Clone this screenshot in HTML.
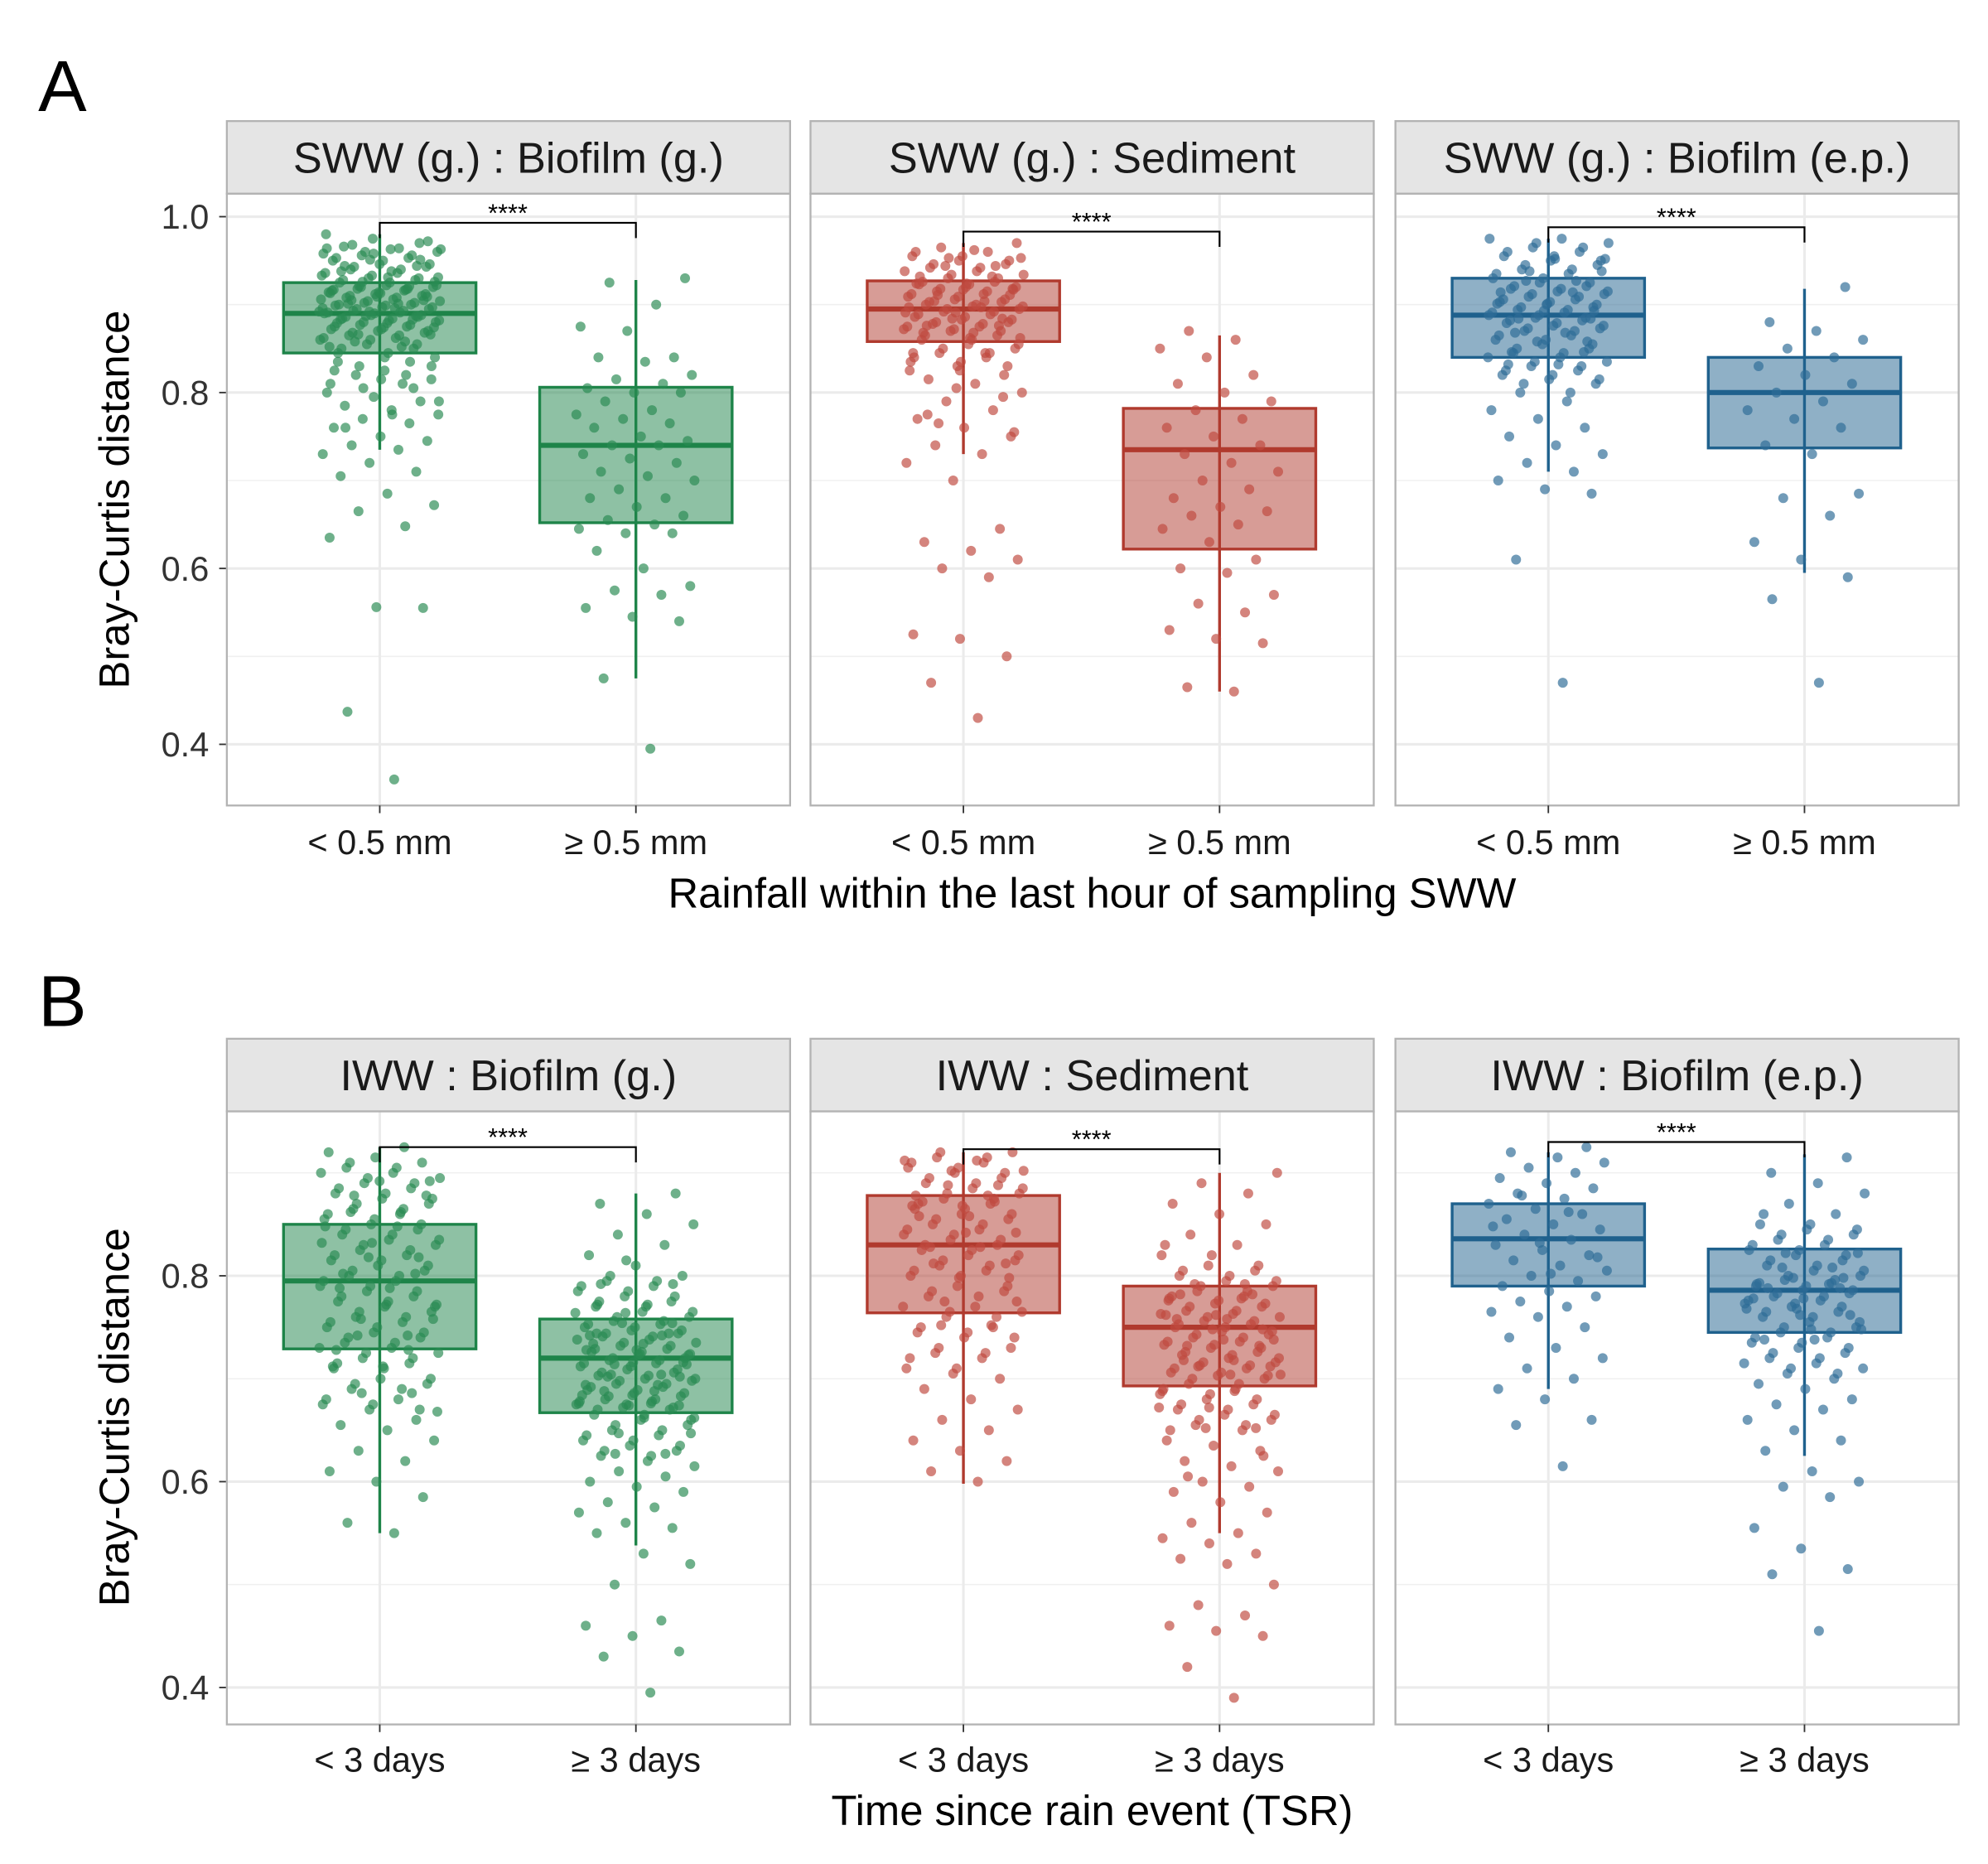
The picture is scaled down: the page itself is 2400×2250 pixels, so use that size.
<!DOCTYPE html>
<html><head><meta charset="utf-8"><style>
html,body{margin:0;padding:0;background:#fff;}
svg{display:block;font-family:"Liberation Sans",Arial,sans-serif;}
</style></head><body>
<svg id="chart" width="2400" height="2250" viewBox="0 0 1560 1462.5" xmlns="http://www.w3.org/2000/svg"></svg>
<script>
const NS="http://www.w3.org/2000/svg";
const svg=document.getElementById('chart');
const stripTitles=["SWW (g.) : Biofilm (g.)","SWW (g.) : Sediment","SWW (g.) : Biofilm (e.p.)","IWW : Biofilm (g.)","IWW : Sediment","IWW : Biofilm (e.p.)"];
const catsA=["< 0.5 mm","≥ 0.5 mm"];
const catsB=["< 3 days","≥ 3 days"];
const ticksA=[0.4,0.6,0.8,1.0];
const ticksB=[0.4,0.6,0.8];
const tickLabelsA=["0.4","0.6","0.8","1.0"];
const tickLabelsB=["0.4","0.6","0.8"];
// box stats: [lowerWhisker, q1, median, q3, upperWhisker]
const boxA1=[[0.735,0.845,0.89,0.925,0.98],[0.475,0.652,0.74,0.806,0.928]];
const boxA2=[[0.73,0.858,0.895,0.927,0.97],[0.46,0.622,0.735,0.782,0.865]];
const boxA3=[[0.71,0.84,0.888,0.93,0.975],[0.595,0.737,0.80,0.84,0.918]];
const boxB1=[[0.55,0.729,0.795,0.85,0.925],[0.538,0.667,0.72,0.758,0.88]];
const boxB2=[[0.598,0.764,0.83,0.878,0.92],[0.55,0.693,0.75,0.79,0.90]];
const boxB3=[[0.69,0.79,0.836,0.87,0.92],[0.625,0.745,0.786,0.826,0.918]];
const sigLevels=[0.993,0.983,0.988,0.925,0.923,0.93];
// jittered points
const ptsA1c1=[0.36,0.437,0.555,0.556,0.635,0.648,0.665,0.672,0.685,0.705,0.71,0.72,0.73,0.735,0.74,0.745,0.75,0.76,0.765,0.77,0.775,0.78,0.785,0.79,0.795,0.80,0.81,0.82,0.83,0.84,0.845,0.85,0.855,0.86,0.862,0.865,0.868,0.87,0.872,0.875,0.877,0.88,0.882,0.884,0.886,0.888,0.89,0.891,0.893,0.895,0.897,0.899,0.90,0.902,0.904,0.906,0.908,0.91,0.912,0.914,0.916,0.918,0.92,0.922,0.925,0.928,0.93,0.933,0.936,0.94,0.943,0.946,0.95,0.953,0.956,0.96,0.963,0.966,0.97,0.975,0.98,0.852,0.858,0.866,0.874,0.879,0.883,0.887,0.892,0.896,0.901,0.905,0.909,0.913,0.917,0.921,0.926,0.931,0.938,0.944,0.951,0.958,0.964,0.968,0.972,0.815,0.825,0.835,0.805,0.79,0.775,0.76];
const ptsA1c2=[0.395,0.475,0.54,0.545,0.555,0.57,0.575,0.58,0.60,0.62,0.64,0.64,0.645,0.65,0.655,0.66,0.67,0.68,0.68,0.69,0.70,0.705,0.71,0.72,0.725,0.73,0.74,0.74,0.745,0.75,0.76,0.765,0.77,0.775,0.78,0.79,0.80,0.80,0.805,0.81,0.815,0.82,0.835,0.84,0.84,0.87,0.875,0.90,0.925,0.93];
const ptsA2c1=[0.43,0.47,0.50,0.52,0.525,0.59,0.60,0.61,0.62,0.63,0.645,0.70,0.72,0.73,0.74,0.75,0.76,0.77,0.78,0.79,0.80,0.81,0.815,0.82,0.83,0.835,0.84,0.845,0.85,0.855,0.86,0.865,0.87,0.872,0.875,0.878,0.88,0.883,0.886,0.889,0.892,0.895,0.898,0.90,0.903,0.906,0.909,0.912,0.915,0.918,0.92,0.923,0.926,0.93,0.934,0.938,0.942,0.946,0.95,0.955,0.96,0.965,0.97,0.862,0.868,0.876,0.884,0.891,0.897,0.904,0.911,0.917,0.924,0.932,0.944,0.953,0.962,0.775,0.795,0.805,0.825,0.845,0.765,0.755];
const ptsA2c2=[0.46,0.465,0.515,0.52,0.53,0.55,0.56,0.57,0.595,0.60,0.61,0.63,0.645,0.65,0.66,0.665,0.67,0.68,0.69,0.70,0.71,0.72,0.73,0.74,0.75,0.76,0.77,0.78,0.79,0.80,0.81,0.82,0.84,0.85,0.86,0.87];
const ptsA3c1=[0.47,0.61,0.685,0.69,0.70,0.71,0.72,0.73,0.74,0.75,0.76,0.77,0.78,0.79,0.80,0.81,0.815,0.82,0.825,0.83,0.835,0.84,0.845,0.85,0.855,0.86,0.865,0.87,0.873,0.876,0.879,0.882,0.885,0.888,0.891,0.894,0.897,0.90,0.903,0.906,0.909,0.912,0.915,0.918,0.921,0.925,0.93,0.935,0.94,0.945,0.95,0.955,0.96,0.965,0.97,0.975,0.868,0.884,0.893,0.901,0.914,0.927,0.938,0.952,0.832,0.846,0.858];
const ptsA3c2=[0.47,0.565,0.59,0.61,0.63,0.66,0.68,0.685,0.73,0.74,0.76,0.77,0.78,0.79,0.80,0.81,0.82,0.83,0.84,0.85,0.86,0.87,0.88,0.92];
const ptsB1c1=[0.55,0.56,0.585,0.60,0.61,0.62,0.63,0.64,0.65,0.655,0.66,0.67,0.675,0.68,0.69,0.695,0.70,0.71,0.715,0.72,0.725,0.73,0.735,0.74,0.745,0.75,0.755,0.76,0.765,0.77,0.775,0.78,0.785,0.79,0.795,0.80,0.805,0.81,0.815,0.82,0.825,0.83,0.835,0.84,0.845,0.85,0.855,0.86,0.865,0.87,0.875,0.88,0.885,0.89,0.895,0.90,0.905,0.91,0.915,0.92,0.925,0.742,0.758,0.772,0.788,0.802,0.818,0.832,0.848,0.862,0.878,0.892,0.712,0.728,0.686,0.668];
const ptsB1c2=[0.395,0.43,0.435,0.45,0.46,0.465,0.50,0.52,0.53,0.55,0.555,0.56,0.57,0.575,0.58,0.59,0.595,0.60,0.605,0.61,0.615,0.62,0.625,0.63,0.635,0.64,0.645,0.65,0.655,0.66,0.665,0.67,0.672,0.675,0.678,0.68,0.683,0.686,0.689,0.692,0.695,0.698,0.70,0.703,0.706,0.709,0.712,0.715,0.718,0.72,0.723,0.726,0.729,0.732,0.735,0.738,0.741,0.744,0.747,0.75,0.753,0.756,0.76,0.765,0.77,0.775,0.78,0.785,0.79,0.795,0.80,0.81,0.82,0.83,0.84,0.85,0.86,0.87,0.88,0.674,0.684,0.694,0.704,0.714,0.724,0.734,0.744,0.754,0.764,0.676,0.688,0.702,0.716,0.728,0.742,0.627,0.647,0.662,0.772,0.792,0.815];
const ptsB2c1=[0.60,0.61,0.62,0.63,0.64,0.65,0.66,0.67,0.68,0.69,0.70,0.705,0.71,0.72,0.725,0.73,0.74,0.745,0.75,0.76,0.765,0.77,0.78,0.785,0.79,0.80,0.805,0.81,0.815,0.82,0.825,0.83,0.835,0.84,0.845,0.85,0.855,0.86,0.865,0.87,0.875,0.88,0.885,0.89,0.895,0.90,0.905,0.91,0.915,0.92,0.842,0.858,0.872,0.888,0.902,0.912,0.828,0.812,0.798,0.868,0.878,0.752,0.775];
const ptsB2c2=[0.39,0.42,0.45,0.455,0.46,0.47,0.48,0.50,0.52,0.525,0.53,0.54,0.545,0.55,0.56,0.57,0.58,0.59,0.595,0.60,0.61,0.615,0.62,0.63,0.635,0.64,0.65,0.655,0.66,0.665,0.67,0.675,0.68,0.685,0.69,0.695,0.70,0.703,0.706,0.71,0.713,0.716,0.72,0.723,0.726,0.73,0.733,0.736,0.74,0.743,0.746,0.75,0.753,0.756,0.76,0.763,0.766,0.77,0.773,0.776,0.78,0.785,0.79,0.795,0.80,0.805,0.81,0.82,0.83,0.84,0.85,0.86,0.87,0.88,0.89,0.90,0.704,0.718,0.732,0.748,0.762,0.778,0.792,0.712,0.738,0.758,0.782,0.652,0.672,0.688,0.605,0.625];
const ptsB3c1=[0.615,0.655,0.66,0.68,0.69,0.70,0.71,0.72,0.73,0.74,0.75,0.76,0.765,0.77,0.775,0.78,0.785,0.79,0.795,0.80,0.805,0.81,0.815,0.82,0.825,0.83,0.835,0.84,0.845,0.85,0.855,0.86,0.865,0.87,0.875,0.88,0.885,0.89,0.895,0.90,0.905,0.91,0.915,0.92,0.925,0.832,0.848,0.862,0.878,0.818,0.802];
const ptsB3c2=[0.455,0.51,0.515,0.535,0.555,0.585,0.595,0.60,0.61,0.63,0.64,0.65,0.66,0.67,0.675,0.68,0.69,0.695,0.70,0.705,0.71,0.715,0.72,0.725,0.73,0.735,0.74,0.745,0.75,0.755,0.76,0.765,0.77,0.773,0.776,0.78,0.783,0.786,0.79,0.793,0.796,0.80,0.805,0.81,0.815,0.82,0.825,0.83,0.835,0.84,0.845,0.85,0.86,0.87,0.88,0.89,0.90,0.915,0.762,0.778,0.792,0.808,0.822,0.748,0.738,0.788,0.798,0.768];

const panelsX=[178,636,1095];
const panelW=442;
const colors=[{s:"#1e8449",f:"#1e8449",p:"#2a8a52"},{s:"#b03a2e",f:"#b03a2e",p:"#bf4a3f"},{s:"#1f618d",f:"#1f618d",p:"#2e6c96"}];
const rows=[
 {stripTop:95,top:152,bottom:632,y:v=>170+(1.0-v)*690,ticks:ticksA,labels:tickLabelsA,cats:catsA,minor:[0.5,0.7,0.9],
  boxes:[boxA1,boxA2,boxA3],pts:[[ptsA1c1,ptsA1c2],[ptsA2c1,ptsA2c2],[ptsA3c1,ptsA3c2]],xtitle:"Rainfall within the last hour of sampling SWW",xtY:700,letter:"A",letterY:68,ytCenter:392,tickLabY:660},
 {stripTop:815,top:872,bottom:1353,y:v=>1001+(0.8-v)*807.5,ticks:ticksB,labels:tickLabelsB,cats:catsB,minor:[0.5,0.7,0.9],
  boxes:[boxB1,boxB2,boxB3],pts:[[ptsB1c1,ptsB1c2],[ptsB2c1,ptsB2c2],[ptsB3c1,ptsB3c2]],xtitle:"Time since rain event (TSR)",xtY:1420,letter:"B",letterY:786,ytCenter:1112,tickLabY:1380}
];
function el(tag,attrs,parent){const e=document.createElementNS(NS,tag);for(const k in attrs)e.setAttribute(k,attrs[k]);(parent||svg).appendChild(e);return e;}

rows.forEach((r,ri)=>{
  const L=el('text',{x:30,y:r.letterY+19,'font-size':57,fill:'#000'});
  
  
  L.textContent=r.letter;
  const yt=el('text',{x:0,y:0,'font-size':33,fill:'#000','text-anchor':'middle',transform:`translate(101,${r.ytCenter}) rotate(-90)`});
  
  
  yt.textContent="Bray-Curtis distance";
  const xt=el('text',{x:857,y:r.xtY+12,'font-size':33,fill:'#000','text-anchor':'middle'});
  
  
  xt.textContent=r.xtitle;
  r.ticks.forEach((t,ti)=>{
    const tl=el('text',{x:164,y:r.y(t)+9.5,'font-size':27,fill:'#333','text-anchor':'end'});
    
    
    tl.textContent=r.labels[ti];
    const tk=el('line',{x1:172,x2:178,y1:r.y(t),y2:r.y(t),stroke:'#333','stroke-width':1.2});
    
    
  });
  panelsX.forEach((px,pi)=>{
    const idx=ri*3+pi;
    const g=el('g',{});
    
    
    const strip=el('rect',{x:px,y:r.stripTop,width:panelW,height:r.top-r.stripTop,fill:'#e5e5e5',stroke:'#b3b3b3','stroke-width':1.5},g);
    
    
    const st=el('text',{x:px+panelW/2,y:(r.stripTop+r.top)/2+12,'font-size':34,fill:'#1a1a1a','text-anchor':'middle'},g);
    
    
    st.textContent=stripTitles[idx];
    const bg=el('rect',{x:px,y:r.top,width:panelW,height:r.bottom-r.top,fill:'#fff'},g);
    
    
    const clipId='clip'+idx;
    const cp=el('clipPath',{id:clipId},g);el('rect',{x:px,y:r.top,width:panelW,height:r.bottom-r.top},cp);
    const inner=el('g',{'clip-path':`url(#${clipId})`},g);
    r.minor.forEach(m=>{const gl=el('line',{x1:px,x2:px+panelW,y1:r.y(m),y2:r.y(m),stroke:'#f0f0f0','stroke-width':1},inner);
      
      });
    r.ticks.forEach(t=>{const gl=el('line',{x1:px,x2:px+panelW,y1:r.y(t),y2:r.y(t),stroke:'#ebebeb','stroke-width':2},inner);
      
      });
    const cx=[px+120,px+321];
    cx.forEach(c=>{const gl=el('line',{x1:c,x2:c,y1:r.top,y2:r.bottom,stroke:'#ebebeb','stroke-width':2},inner);
      
      });
    const col=colors[pi];
    [0,1].forEach(ci=>{
      const b=r.boxes[pi][ci];const c=cx[ci];const hw=75.5;
      const wl=el('line',{x1:c,x2:c,y1:r.y(b[0]),y2:r.y(b[4]),stroke:col.s,'stroke-width':2.2},inner);
      
      
      const bx=el('rect',{x:c-hw,y:r.y(b[3]),width:2*hw,height:r.y(b[1])-r.y(b[3]),fill:col.f,'fill-opacity':0.5,stroke:col.s,'stroke-width':2.2},inner);
      
      
      const md=el('line',{x1:c-hw,x2:c+hw,y1:r.y(b[2]),y2:r.y(b[2]),stroke:col.s,'stroke-width':4},inner);
      
      
      const pts=r.pts[pi][ci];
      const dense=pts.length>60;
      pts.forEach((v,i)=>{
        const inCore=v>=b[1]-(b[3]-b[1])*0.5 && v<=b[3]+(b[3]-b[1])*0.5;
        const copies=(dense&&inCore)?2:1;
        for(let k=0;k<copies;k++){
          const off=((((i+1)*0.6180339)+k*0.41)%1)*2-1;
          const p=el('circle',{cx:c+off*48,cy:r.y(v),r:3.9,fill:col.p,'fill-opacity':0.68},inner);
          
          
        }
      });
    });
    const sy=r.y(sigLevels[idx]);
    const br=el('path',{d:`M${cx[0]},${sy+12} V${sy} H${cx[1]} V${sy+12}`,fill:'none',stroke:'#000','stroke-width':1.4},g);
    
    
    const sg=el('text',{x:(cx[0]+cx[1])/2,y:sy-1,'font-size':20,fill:'#000','text-anchor':'middle'},g);
    
    
    sg.textContent="****";
    const border=el('rect',{x:px,y:r.top,width:panelW,height:r.bottom-r.top,fill:'none',stroke:'#b3b3b3','stroke-width':1.5},g);
    
    
    cx.forEach((c,ci)=>{
      const tk=el('line',{x1:c,x2:c,y1:r.bottom,y2:r.bottom+6,stroke:'#333','stroke-width':1.2},g);
      
      
      const tl=el('text',{x:c,y:r.tickLabY+10,'font-size':27,fill:'#1a1a1a','text-anchor':'middle'},g);
      
      
      tl.textContent=r.cats[ci];
    });
  });
});
</script>
</body></html>
